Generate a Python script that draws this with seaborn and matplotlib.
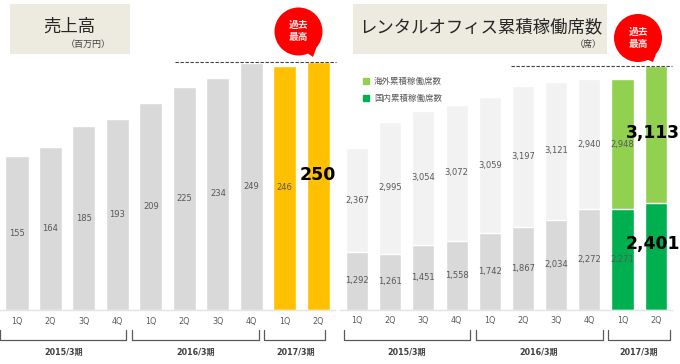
import numpy as np
import pandas as pd
import seaborn as sns
import matplotlib
matplotlib.use('Agg')
import matplotlib.pyplot as plt
from matplotlib.patches import Rectangle, Ellipse, Polygon, Patch

sns.set_theme(style='white')
plt.rcParams['font.family'] = ['DejaVu Sans', 'Noto Sans CJK JP']

# データ
quarters = ['1Q', '2Q', '3Q', '4Q', '1Q', '2Q', '3Q', '4Q', '1Q', '2Q']
periods = ['2015/3期', '2016/3期', '2017/3期']
sales = [155, 164, 185, 193, 209, 225, 234, 249, 246, 250]
domestic = [1292, 1261, 1451, 1558, 1742, 1867, 2034, 2272, 2271, 2401]
overseas = [2367, 2995, 3054, 3072, 3059, 3197, 3121, 2940, 2948, 3113]

W, H = 680, 364
GRAY = '#D9D9D9'
LIGHT = '#F2F2F2'
GOLD = '#FFC000'
LIME = '#92D050'
GREEN = '#00B050'
TXT = '#595959'

ids = [f'{i}' for i in range(len(quarters))]
df = pd.DataFrame({'id': ids, 'sales': sales, 'domestic': domestic, 'overseas': overseas})
df['total'] = df['domestic'] + df['overseas']

fig = plt.figure(figsize=(W / 100, H / 100), dpi=100)


def px_axes(x0, x1, top, bottom):
    return fig.add_axes([x0 / W, 1 - bottom / H, (x1 - x0) / W, (bottom - top) / H])


def draw_bars(ax, col, colors, width):
    sns.barplot(data=df, x='id', y=col, hue='id', palette=colors, dodge=False,
                legend=False, width=width, saturation=1, ax=ax)


def style_axes(ax, ymax):
    ax.set_xlim(-0.5, 9.5)
    ax.set_ylim(0, ymax)
    ax.set_xlabel('')
    ax.set_ylabel('')
    ax.set_yticks([])
    ax.set_xticks(range(len(quarters)))
    ax.set_xticklabels(quarters, fontsize=5.8, color=TXT)
    ax.tick_params(axis='x', length=0, pad=5)
    ax.patch.set_alpha(0)
    sns.despine(ax=ax, left=True)
    ax.spines['bottom'].set_color('#E4E4E4')
    ax.spines['bottom'].set_linewidth(1)


# 売上高
ax1 = px_axes(0.25, 335, 62, 310)
draw_bars(ax1, 'sales', [GRAY] * 8 + [GOLD] * 2, 0.69)
style_axes(ax1, 250)
for i, v in enumerate(sales[:-1]):
    ax1.text(i, v / 2, str(v), ha='center', va='center', fontsize=6, color=TXT)

# レンタルオフィス累積稼働席数
ax2 = px_axes(340.4, 672.3, 66, 309.5)
draw_bars(ax2, 'total', [LIGHT] * 8 + [LIME] * 2, 0.665)
draw_bars(ax2, 'domestic', [GRAY] * 8 + [GREEN] * 2, 0.665)
style_axes(ax2, domestic[-1] + overseas[-1])
for i in range(len(quarters) - 1):
    ax2.text(i, domestic[i] / 2, f'{domestic[i]:,}', ha='center', va='center', fontsize=6, color=TXT)
    ax2.text(i, domestic[i] + overseas[i] / 2, f'{overseas[i]:,}', ha='center', va='center', fontsize=6, color=TXT)

ax2.legend(handles=[Patch(color=LIME, label='海外累積稼働席数'), Patch(color=GREEN, label='国内累積稼働席数')],
           loc='upper left', bbox_to_anchor=(363 / W, 1 - 77 / H), bbox_transform=fig.transFigure,
           frameon=False, fontsize=6.1, labelcolor=TXT, handlelength=0.7, handleheight=0.7,
           handletextpad=0.6, labelspacing=0.95, borderpad=0, borderaxespad=0)

# 見出し・吹き出し・括弧など（ピクセル座標）
ov = fig.add_axes([0, 0, 1, 1], zorder=5)
ov.set_xlim(0, W)
ov.set_ylim(H, 0)
ov.axis('off')

for x, w in [(10, 120), (353, 254)]:
    ov.add_patch(Rectangle((x, 4), w, 50, color='#EDEBE0', lw=0))
ov.text(69, 27, '売上高', fontsize=12.5, ha='center', va='center', color='#262626')
ov.text(88, 44, '（百万円）', fontsize=6.5, ha='center', va='center', color='#404040')
ov.text(481, 27, 'レンタルオフィス累積稼働席数', fontsize=12.5, ha='center', va='center', color='#262626')
ov.text(588, 44, '（席）', fontsize=6.5, ha='center', va='center', color='#404040')

ov.plot([175, 336], [62, 62], color='#404040', lw=0.8, ls=(0, (3, 1.5)))
ov.plot([511, 672], [66, 66], color='#404040', lw=0.8, ls=(0, (3, 1.5)))

for cx, cy, tip in [(298.5, 31.5, (313, 57)), (638, 38, (653, 62))]:
    ov.add_patch(Ellipse((cx, cy), 48, 48, color='#FF0000', lw=0))
    ov.add_patch(Polygon([(cx + 8, cy + 21), (cx + 18, cy + 16), tip], color='#FF0000', lw=0))
    ov.text(cx, cy - 6.5, '過去', fontsize=7, fontweight='bold', ha='center', va='center', color='#FFE8E8')
    ov.text(cx, cy + 5.5, '最高', fontsize=7, fontweight='bold', ha='center', va='center', color='#FFE8E8')

ov.text(318, 175, str(sales[-1]), fontsize=12.5, fontweight='bold', ha='center', va='center', color='black')
ov.text(653, 133, f'{overseas[-1]:,}', fontsize=12.3, fontweight='bold', ha='center', va='center', color='black')
ov.text(653, 244, f'{domestic[-1]:,}', fontsize=12.3, fontweight='bold', ha='center', va='center', color='black')

brackets = [(0, 126, 64), (132, 259, 196), (263.5, 325, 296),
            (343.5, 470, 407), (476, 603, 539), (607.5, 670, 639)]
for (x0, x1, tx), label in zip(brackets, periods * 2):
    ov.plot([x0, x0, x1, x1], [330, 340, 340, 330], color='#595959', lw=0.9)
    ov.text(tx, 352, label, fontsize=5.8, fontweight='bold', ha='center', va='center', color='#404040')

fig.savefig('out.png', dpi=100)
